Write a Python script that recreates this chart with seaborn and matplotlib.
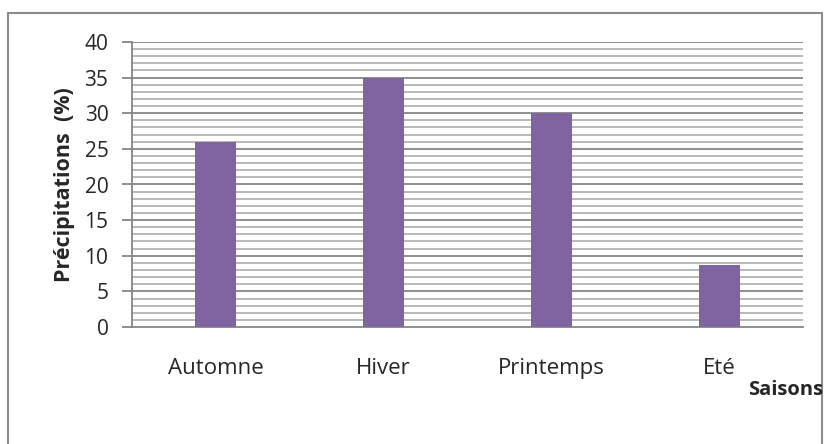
import numpy as np
import pandas as pd
import matplotlib
matplotlib.use("Agg")
import matplotlib.pyplot as plt
import seaborn as sns
from matplotlib.patches import Rectangle

# Data
SAISONS = ["Automne", "Hiver", "Printemps", "Eté"]
PRECIPITATIONS = [26, 35, 30, 8.7]

BAR_COLOR = "#8064A2"
MAJOR_GRID = "#868686"
MINOR_GRID = "#b3b3b3"

sns.set_theme(style="white")
plt.rcParams["font.family"] = ["Open Sans", "DejaVu Sans"]

df = pd.DataFrame({"saison": SAISONS, "precip": PRECIPITATIONS})

fig = plt.figure(figsize=(8.24, 4.44), dpi=100)
ax = fig.add_axes([132 / 824, 1 - 327 / 444, (803 - 132) / 824, (327 - 42) / 444])

# Outer chart border
fig.patches.append(Rectangle((8 / 824, -0.01), (822 - 8) / 824, (444 - 13) / 444 + 0.01,
                             transform=fig.transFigure, fill=False,
                             edgecolor="#8c8c8c", linewidth=1.5))

sns.barplot(data=df, x="saison", y="precip", color=BAR_COLOR, width=0.245,
            saturation=1, linewidth=0, ax=ax, zorder=3)

ax.set_ylim(0, 40)
ax.set_xlim(-0.5, 3.5)
ax.set_yticks(np.arange(0, 41, 5))
ax.set_yticks(np.arange(0, 41, 1), minor=True)

# gridlines: minor each unit, major every 5
for v in np.arange(1, 41, 1):
    if v % 5 == 0:
        ax.axhline(v, color=MAJOR_GRID, linewidth=1.3, zorder=1)
    else:
        ax.axhline(v, color=MINOR_GRID, linewidth=1.3, zorder=1)

for s in ["top", "right"]:
    ax.spines[s].set_visible(False)
ax.spines["left"].set_color(MAJOR_GRID)
ax.spines["left"].set_linewidth(1.3)
ax.spines["bottom"].set_color(MAJOR_GRID)
ax.spines["bottom"].set_linewidth(1.3)

ax.tick_params(axis="y", which="major", direction="out", length=7, width=1.3,
               color=MAJOR_GRID, labelsize=15, pad=10, left=True)
ax.tick_params(axis="y", which="minor", length=0)
ax.tick_params(axis="x", length=0, labelsize=16, pad=22)

ax.set_xlabel("")
ax.set_ylabel("Précipitations  (%)", fontsize=15.5, fontweight="bold")
ax.yaxis.set_label_coords(-57 / 671, 0.5)
fig.text(823 / 824, 1 - 390 / 444, "Saisons", ha="right", va="center",
         fontsize=14.5, fontweight="bold")

fig.savefig("out.png", dpi=100, facecolor="white")
